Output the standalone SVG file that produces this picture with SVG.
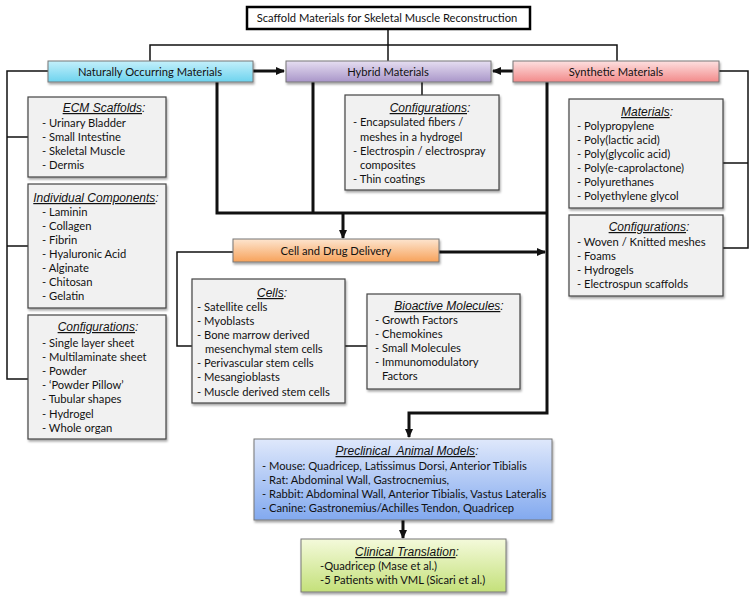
<svg xmlns="http://www.w3.org/2000/svg" width="754" height="603" viewBox="0 0 754 603">
<style>
.t{font-family:Lato,"Open Sans","Liberation Sans",sans-serif;font-size:11.2px;fill:#111}
.h{font-family:"Liberation Sans",Arial,sans-serif;font-size:12px;font-style:italic;fill:#111;text-anchor:middle}
.u{text-decoration:underline}
.m{text-anchor:middle}
.box{fill:#f1f1f1;stroke:#444;stroke-width:1.2;filter:url(#sh)}
.cb{stroke:#777;stroke-width:1;filter:url(#sh)}
.thin{fill:none;stroke:#111;stroke-width:1.5}
.thick{fill:none;stroke:#111;stroke-width:3}
</style>
<defs>
<filter id="sh" x="-10%" y="-10%" width="130%" height="140%"><feDropShadow dx="1" dy="2" stdDeviation="1.2" flood-color="#000" flood-opacity="0.35"/></filter>
<marker id="ah" markerUnits="userSpaceOnUse" markerWidth="10" markerHeight="10" refX="8" refY="5" orient="auto"><path d="M0,1 L9,5 L0,9 Z" fill="#111"/></marker>
<linearGradient id="gc" x1="0" y1="0" x2="0" y2="1"><stop offset="0" stop-color="#c4f0fb"/><stop offset="1" stop-color="#6dd3ee"/></linearGradient>
<linearGradient id="gp" x1="0" y1="0" x2="0" y2="1"><stop offset="0" stop-color="#e6def1"/><stop offset="1" stop-color="#a996c9"/></linearGradient>
<linearGradient id="gr" x1="0" y1="0" x2="0" y2="1"><stop offset="0" stop-color="#fde0e0"/><stop offset="1" stop-color="#f28a8a"/></linearGradient>
<linearGradient id="go" x1="0" y1="0" x2="0" y2="1"><stop offset="0" stop-color="#fde5cf"/><stop offset="1" stop-color="#f7a25a"/></linearGradient>
<linearGradient id="gb" x1="0" y1="0" x2="0" y2="1"><stop offset="0" stop-color="#dfe8fb"/><stop offset="1" stop-color="#82a9ef"/></linearGradient>
<linearGradient id="gg" x1="0" y1="0" x2="0" y2="1"><stop offset="0" stop-color="#f4fadb"/><stop offset="1" stop-color="#c4e07a"/></linearGradient>
</defs>

<g id="connectors">
<path class="thin" d="M388,29 V61"/>
<path class="thin" d="M150,61 V45 H617 V61"/>
<path class="thick" d="M253,71 H284" marker-end="url(#ah)"/>
<path class="thick" d="M513,71 H493" marker-end="url(#ah)"/>
<path class="thin" d="M48,71 H7 V379 H28 M7,137 H28 M7,246 H28"/>
<path class="thin" d="M422,82 V95"/>
<path class="thick" d="M217,82 V213 H547 M313,82 V213"/>
<path class="thick" d="M547,82 V413 H409 V437" marker-end="url(#ah)"/>
<path class="thick" d="M343,213 V238" marker-end="url(#ah)"/>
<path class="thick" d="M439,252 H545" marker-end="url(#ah)"/>
<path class="thin" d="M233,252 H177 V346 H192 M345,346 H367"/>
<path class="thin" d="M719,71 H748 V248 H723 M723,163 H748"/>
<path class="thick" d="M403,520 V538" marker-end="url(#ah)"/>
</g>

<g id="title">
<rect x="247" y="7" width="283" height="22" fill="#fff" stroke="#000" stroke-width="2.5"/>
<text class="t m" x="387" y="22">Scaffold Materials for Skeletal Muscle Reconstruction</text>
</g>

<g id="natural">
<rect class="cb" x="48" y="61" width="205" height="21" fill="url(#gc)"/>
<text class="t m" x="150" y="75.5">Naturally Occurring Materials</text>
</g>
<g id="hybrid">
<rect class="cb" x="286" y="61" width="205" height="21" fill="url(#gp)"/>
<text class="t m" x="388" y="75.5">Hybrid Materials</text>
</g>
<g id="synthetic">
<rect class="cb" x="513" y="61" width="206" height="21" fill="url(#gr)"/>
<text class="t m" x="616" y="75.5">Synthetic Materials</text>
</g>

<g id="ecm">
<rect class="box" x="28" y="97" width="138" height="80"/>
<text class="h" x="104" y="112"><tspan class="u">ECM Scaffolds</tspan>:</text>
<text class="t" x="42" y="127">- Urinary Bladder</text>
<text class="t" x="42" y="141">- Small Intestine</text>
<text class="t" x="42" y="155">- Skeletal Muscle</text>
<text class="t" x="42" y="169">- Dermis</text>
</g>

<g id="individual">
<rect class="box" x="28" y="184" width="138" height="124"/>
<text class="h" x="96" y="202"><tspan class="u">Individual Components</tspan>:</text>
<text class="t" x="42" y="216">- Laminin</text>
<text class="t" x="42" y="230">- Collagen</text>
<text class="t" x="42" y="244">- Fibrin</text>
<text class="t" x="42" y="258">- Hyaluronic Acid</text>
<text class="t" x="42" y="272">- Alginate</text>
<text class="t" x="42" y="286">- Chitosan</text>
<text class="t" x="42" y="300">- Gelatin</text>
</g>

<g id="nat-config">
<rect class="box" x="28" y="315" width="138" height="124"/>
<text class="h" x="98" y="331"><tspan class="u">Configurations</tspan>:</text>
<text class="t" x="42" y="347">- Single layer sheet</text>
<text class="t" x="42" y="361">- Multilaminate sheet</text>
<text class="t" x="42" y="375">- Powder</text>
<text class="t" x="42" y="389">- ‘Powder Pillow’</text>
<text class="t" x="42" y="403">- Tubular shapes</text>
<text class="t" x="42" y="418">- Hydrogel</text>
<text class="t" x="42" y="432">- Whole organ</text>
</g>

<g id="hyb-config">
<rect class="box" x="345" y="95" width="154" height="95"/>
<text class="h" x="430" y="112"><tspan class="u">Configurations</tspan>:</text>
<text class="t" x="353" y="126">- Encapsulated fibers /</text>
<text class="t" x="360" y="141">meshes in a hydrogel</text>
<text class="t" x="353" y="155">- Electrospin / electrospray</text>
<text class="t" x="360" y="169">composites</text>
<text class="t" x="353" y="183">- Thin coatings</text>
</g>

<g id="syn-materials">
<rect class="box" x="569" y="99" width="154" height="109"/>
<text class="h" x="647" y="116"><tspan class="u">Materials</tspan>:</text>
<text class="t" x="577" y="130">- Polypropylene</text>
<text class="t" x="577" y="144">- Poly(lactic acid)</text>
<text class="t" x="577" y="158">- Poly(glycolic acid)</text>
<text class="t" x="577" y="172">- Poly(e-caprolactone)</text>
<text class="t" x="577" y="186">- Polyurethanes</text>
<text class="t" x="577" y="200">- Polyethylene glycol</text>
</g>

<g id="syn-config">
<rect class="box" x="569" y="215" width="154" height="81"/>
<text class="h" x="649" y="231"><tspan class="u">Configurations</tspan>:</text>
<text class="t" x="577" y="246">- Woven / Knitted meshes</text>
<text class="t" x="577" y="260">- Foams</text>
<text class="t" x="577" y="274">- Hydrogels</text>
<text class="t" x="577" y="288">- Electrospun scaffolds</text>
</g>

<g id="delivery">
<rect class="cb" x="233" y="239" width="206" height="23" fill="url(#go)"/>
<text class="t m" x="336" y="254.5">Cell and Drug Delivery</text>
</g>

<g id="cells">
<rect class="box" x="192" y="279" width="153" height="124"/>
<text class="h" x="272" y="297"><tspan class="u">Cells</tspan>:</text>
<text class="t" x="197" y="311">- Satellite cells</text>
<text class="t" x="197" y="325">- Myoblasts</text>
<text class="t" x="197" y="339">- Bone marrow derived</text>
<text class="t" x="205" y="353">mesenchymal stem cells</text>
<text class="t" x="197" y="367">- Perivascular stem cells</text>
<text class="t" x="197" y="381">- Mesangioblasts</text>
<text class="t" x="197" y="396">- Muscle derived stem cells</text>
</g>

<g id="bioactive">
<rect class="box" x="367" y="294" width="153" height="95"/>
<text class="h" x="449" y="310"><tspan class="u">Bioactive Molecules</tspan>:</text>
<text class="t" x="375" y="324">- Growth Factors</text>
<text class="t" x="375" y="338">- Chemokines</text>
<text class="t" x="375" y="352">- Small Molecules</text>
<text class="t" x="375" y="366">- Immunomodulatory</text>
<text class="t" x="382" y="380">Factors</text>
</g>

<g id="preclinical">
<rect class="cb" x="254" y="439" width="298" height="81" fill="url(#gb)" stroke="#333"/>
<text class="h" x="407" y="455" style="white-space:pre"><tspan class="u">Preclinical  Animal Models</tspan>:</text>
<text class="t" x="262" y="470">- Mouse: Quadricep, Latissimus Dorsi, Anterior Tibialis</text>
<text class="t" x="262" y="484">- Rat: Abdominal Wall, Gastrocnemius,</text>
<text class="t" x="262" y="498">- Rabbit: Abdominal Wall, Anterior Tibialis, Vastus Lateralis</text>
<text class="t" x="262" y="512">- Canine: Gastronemius/Achilles Tendon, Quadricep</text>
</g>

<g id="clinical">
<rect class="cb" x="301" y="539" width="205" height="53" fill="url(#gg)" stroke="#333"/>
<text class="h" x="407" y="556"><tspan class="u">Clinical Translation</tspan>:</text>
<text class="t" x="320" y="570">-Quadricep (Mase et al.)</text>
<text class="t" x="320" y="584">-5 Patients with VML (Sicari et al.)</text>
</g>
</svg>
